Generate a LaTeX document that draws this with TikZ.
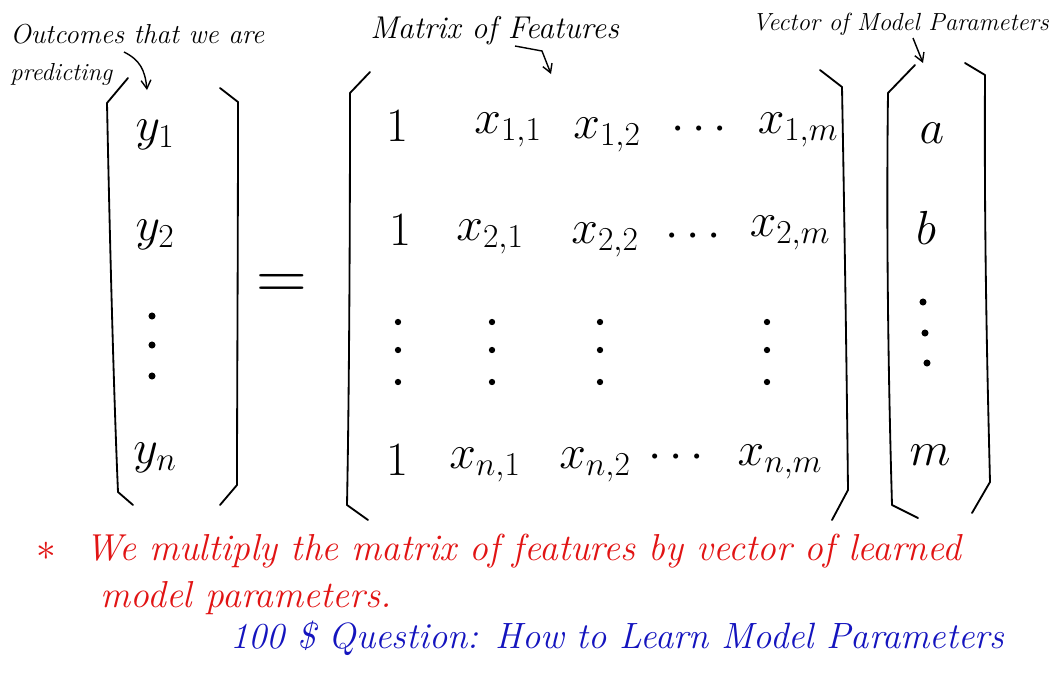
\documentclass[tikz,border=0pt]{standalone}
\usepackage{fix-cm}
\usepackage{amsmath}
\usetikzlibrary{arrows.meta}
\definecolor{inkred}{RGB}{225,20,20}
\definecolor{inkblue}{RGB}{20,20,190}
\tikzset{
  ent/.style={inner sep=0pt, font=\fontsize{34}{40}\selectfont},
  note/.style={inner sep=0pt, anchor=base west, font=\fontsize{19.5}{22}\selectfont\itshape},
  brk/.style={line width=1.3pt, line cap=round, line join=round},
  pointer/.style={line width=1pt, -{Straight Barb[length=6pt,width=7pt]}},
  dotc/.style={circle, fill=black, inner sep=0pt, minimum size=5pt},
  redtxt/.style={inner sep=0pt, anchor=base west, text=inkred, font=\fontsize{26.7}{30}\selectfont\itshape},
  bluetxt/.style={inner sep=0pt, anchor=base west, text=inkblue, font=\fontsize{26}{30}\selectfont\itshape}
}
\begin{document}
\begin{tikzpicture}[x=0.025cm, y=-0.025cm]
\useasboundingbox (0,0) rectangle (1060,679);
% annotations
\node[note] (outc) at (10,43) {Outcomes that we are};
\node[note, font=\fontsize{17.5}{20}\selectfont\itshape] (pred) at (10,80) {predicting};
\node[note, font=\fontsize{22.4}{26}\selectfont\itshape] (matf) at (370,38) {Matrix of Features};
\node[note, font=\fontsize{17.6}{20}\selectfont\itshape] (vecp) at (752,30) {Vector of Model Parameters};
% brackets: outcome vector
\draw[brk] (128,78) -- (107,103) .. controls (110,250) and (114,400) .. (118,492) -- (133,505);
\draw[brk] (220,88) -- (238,102) .. controls (238,250) and (237,400) .. (237,485) -- (220,505);
% brackets: matrix
\draw[brk] (370,72) -- (350,93) .. controls (350,250) and (349,400) .. (347,505) -- (368,520);
\draw[brk] (820,70) -- (842,87) .. controls (845,250) and (847,400) .. (848,490) -- (832,520);
% brackets: parameter vector
\draw[brk] (915,65) -- (888,93) .. controls (886,250) and (889,400) .. (892,505) -- (918,518);
\draw[brk] (965,63) -- (985,75) .. controls (984,250) and (988,400) .. (990,482) -- (972,513);
% pointer targets
\coordinate (ytop) at (147,90);
\coordinate (xtop) at (551,74);
\coordinate (ptop) at (923,63);
\draw[pointer] (124,52) .. controls (140,60) and (145,70) .. (ytop);
\draw[pointer] (515,46) -- (542,51) -- (xtop);
\draw[pointer] (913,38) -- (ptop);
% outcome vector entries
\node[ent] (y1) at (155,135) {$y_1$};
\node[ent] (y2) at (155,235) {$y_2$};
\node[dotc] (yd1) at (152,316) {};
\node[dotc] (yd2) at (152,345) {};
\node[dotc] (yd3) at (152,376) {};
\node[ent] (yn) at (155,458) {$y_n$};
% equals
\node[ent, font=\fontsize{50}{56}\selectfont] (eq) at (282,287) {$=$};
% matrix entries
\node[ent] (m11) at (397,126) {$1$};
\node[ent] (x11) at (508,130) {$x_{1,1}$};
\node[ent] (x12) at (607,135) {$x_{1,2}$};
\node[ent] (r1d) at (703,130) {$\cdots$};
\node[ent] (x1m) at (798,130) {$x_{1,m}$};
\node[ent] (m21) at (400,230) {$1$};
\node[ent] (x21) at (490,237) {$x_{2,1}$};
\node[ent] (x22) at (605,240) {$x_{2,2}$};
\node[ent] (r2d) at (697,237) {$\cdots$};
\node[ent] (x2m) at (790,233) {$x_{2,m}$};
\foreach \cx/\nm in {398/a,492/b,600/c,767/d}{
  \node[dotc, minimum size=4.5pt] (v\nm1) at (\cx,322) {};
  \node[dotc, minimum size=4.5pt] (v\nm2) at (\cx,350) {};
  \node[dotc, minimum size=4.5pt] (v\nm3) at (\cx,382) {};
}
\node[ent] (mn1) at (397,460) {$1$};
\node[ent] (xn1) at (485,465) {$x_{n,1}$};
\node[ent] (xn2) at (595,465) {$x_{n,2}$};
\node[ent] (rnd) at (680,458) {$\cdots$};
\node[ent] (xnm) at (780,462) {$x_{n,m}$};
% parameter vector entries
\node[ent] (pa) at (932,133) {$a$};
\node[ent] (pb) at (926,228) {$b$};
\node[dotc] (pd1) at (923,302) {};
\node[dotc] (pd2) at (925,333) {};
\node[dotc] (pd3) at (927,363) {};
\node[ent] (pm) at (930,455) {$m$};
% red remark
\node[inkred, font=\fontsize{28}{30}\selectfont, inner sep=0pt] (star) at (46,551) {$\ast$};
\node[redtxt] (rem1) at (85,560) {We multiply the matrix of features by vector of learned};
\node[redtxt] (rem2) at (100,607) {model parameters.};
% blue question
\node[bluetxt] (quest) at (230,648) {100 \$ Question: How to Learn Model Parameters};
\end{tikzpicture}
\end{document}
